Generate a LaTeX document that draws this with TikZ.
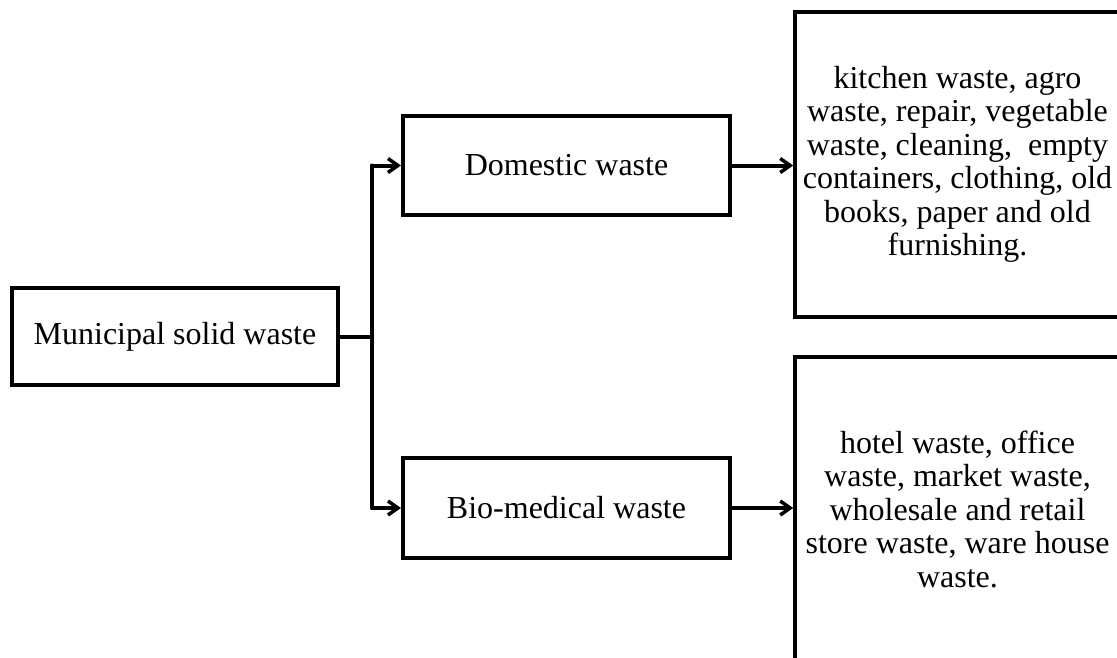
\documentclass[tikz,border=0pt]{standalone}
\usepackage{fontspec}
\setmainfont{Liberation Serif}
\usetikzlibrary{arrows.meta}
\tikzset{
  wbox/.style={draw=black, line width=4pt, fill=white, inner sep=0pt, align=center,
    font=\fontsize{32}{33.5}\selectfont},
  conn/.style={draw=black, line width=4pt, line cap=round, line join=round},
  arr/.style={conn, -{Straight Barb[length=10pt,width=14pt,line width=3.5pt]}}
}
\begin{document}
\begin{tikzpicture}[x=1pt,y=-1pt]
\useasboundingbox (0,0) rectangle (1117,657);
\clip (0,0) rectangle (1117,657);
\fill[white] (0,0) rectangle (1117,657);
\node[wbox, minimum width=326pt, minimum height=97pt] (msw) at (175,336.5) {Municipal solid waste};
\node[wbox, minimum width=327pt, minimum height=99pt] (dom) at (566.5,165.5) {Domestic waste};
\node[wbox, minimum width=327pt, minimum height=100pt] (bio) at (566.5,508) {Bio-medical waste};
\node[wbox, line width=3.5pt, minimum width=325pt, minimum height=305pt] (domlist) at (957.5,164.5)
  {kitchen waste, agro\\waste, repair, vegetable\\waste, cleaning,\ \ empty\\containers, clothing, old\\books, paper and old\\furnishing.};
\node[wbox, line width=3.5pt, minimum width=325pt, minimum height=304pt] (biolist) at (957.5,509)
  {hotel waste, office\\waste, market waste,\\wholesale and retail\\store waste, ware house\\waste.};
\coordinate (j) at (372,336.5);
\coordinate (jt) at (372,165.5);
\coordinate (jb) at (372,508);
\draw[conn] (msw.east) -- (j);
\draw[conn] (jt) -- (jb);
\draw[arr] (jt) -- (dom.west);
\draw[arr] (jb) -- (bio.west);
\draw[arr] (dom.east) -- (domlist.west |- dom.east);
\draw[arr] (bio.east) -- (biolist.west |- bio.east);
\end{tikzpicture}
\end{document}
